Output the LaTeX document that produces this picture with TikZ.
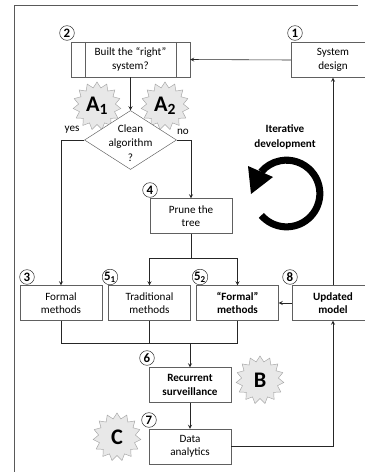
\documentclass[tikz,border=0pt]{standalone}
\usepackage{fontspec}
\setmainfont{Carlito}
\usetikzlibrary{shapes.geometric, shadows}
\tikzset{>=stealth}
\tikzset{
  stepbox/.style={draw=gray!75!black, fill=white, align=center, inner sep=1pt,
    minimum width=2.46cm, minimum height=1.05cm, font=\fontsize{9.5}{11.5}\selectfont,
    drop shadow={shadow xshift=0.6pt, shadow yshift=-0.6pt, fill=gray!50}},
  decision/.style={diamond, draw=gray!75!black, fill=white, inner sep=0pt,
    minimum width=2.76cm, minimum height=1.77cm},
  num/.style={circle, draw=black!85, fill=white, inner sep=0pt, minimum size=0.44cm,
    font=\fontsize{11}{11}\selectfont\bfseries},
  burst/.style={star, star points=15, star point ratio=1.3, draw=gray!70, fill=gray!18,
    inner sep=0pt, minimum size=1.44cm, font=\fontsize{19}{19}\selectfont\bfseries},
  conn/.style={draw=black!85, line width=0.5pt},
  frame/.style={draw=gray!70!black, line width=0.6pt}
}
\begin{document}
\begin{tikzpicture}[x=0.03cm, y=-0.03cm]
    \useasboundingbox (0,0) rectangle (365,472);
    \clip (0,0) rectangle (365,472);
    \draw[frame] (14,472) -- (14,5) -- (358,5);

    % bursts
    \node[burst] (a1) at (97,106) {A\textsubscript{1}};
    \node[burst] (a2) at (165,106) {A\textsubscript{2}};
    \node[burst] (b) at (260,380) {B};
    \node[burst] (c) at (117,437) {C};

    % boxes
    \node[stepbox, minimum width=3.57cm] (built) at (130.5,59.5) {Built the ``right''\\system?};
    \draw[draw=gray!75!black] ([xshift=0.42cm]built.north west) -- ([xshift=0.42cm]built.south west);
    \draw[draw=gray!75!black] ([xshift=-0.42cm]built.north east) -- ([xshift=-0.42cm]built.south east);
    \node[stepbox, minimum width=2.52cm] (sys) at (333,60) {System\\design};
    \node[decision] (clean) at (130.5,140) {};
    \node[align=center, font=\fontsize{9.5}{12.5}\selectfont] (cleantxt) at (130.5,143) {Clean\\algorithm\\?};
    \node[stepbox] (prune) at (191,216) {Prune the\\tree};
    \node[stepbox] (formal) at (61,303) {Formal\\methods};
    \node[stepbox] (trad) at (149.5,303) {Traditional\\methods};
    \node[stepbox, font=\fontsize{9.5}{11.5}\selectfont\bfseries] (fm2) at (237.5,303) {``Formal''\\methods};
    \node[stepbox, font=\fontsize{9.5}{11.5}\selectfont\bfseries] (upd) at (333,303) {Updated\\model};
    \node[stepbox, font=\fontsize{9.5}{11.5}\selectfont\bfseries] (rec) at (190,385) {Recurrent\\surveillance};
    \node[stepbox] (data) at (190,446.5) {Data\\analytics};

    % numbers
    \node[num] (n1) at (295,33) {1};
    \node[num] (n2) at (67,33) {2};
    \node[num] (n3) at (27,277) {3};
    \node[num] (n4) at (150,190) {4};
    \node[num] (n51) at (110,277) {5\textsubscript{1}};
    \node[num] (n52) at (200,277) {5\textsubscript{2}};
    \node[num] (n6) at (147,358) {6};
    \node[num] (n7) at (149,420) {7};
    \node[num] (n8) at (290,277) {8};

    \node[font=\fontsize{9.5}{11}\selectfont] (yes) at (72,130) {yes};
    \node[font=\fontsize{9.5}{11}\selectfont] (no) at (183,132) {no};

    % connectors
    \draw[conn, ->] (sys.west) -- (built.east);
    \draw[conn, ->] (built.south) -- (clean.north);
    \draw[conn, ->] (clean.west) -| (formal.north);
    \draw[conn, ->] (clean.east) -| (prune.north);
    \draw[conn] (prune.south) -- ++(0,25) coordinate (split);
    \draw[conn, ->] (split) -| (trad.north);
    \draw[conn, ->] (split) -| (fm2.north);
    \draw[conn, ->] (upd.west) -- (fm2.east);
    \coordinate (merge) at (190,343);
    \draw[conn] (formal.south) |- (merge);
    \draw[conn] (fm2.south) |- (merge);
    \draw[conn] (trad.south) -- (trad.south |- merge);
    \draw[conn, ->] (merge) -- (rec.north);
    \draw[conn, ->] (rec.south) -- (data.north);
    \draw[conn, ->] (data.east) -| (upd.south);
    \draw[conn, ->] (upd.north) -- (sys.south);

    % iterative loop
    \node[align=center, font=\fontsize{9.5}{12.5}\selectfont\bfseries] (iter) at (285,137) {Iterative\\development};
    \coordinate (loop) at (286.5,193.5);
    \draw[line width=6pt] ([shift={(221:1cm)}]loop) arc[start angle=221, end angle=500, radius=1cm];
    \fill (248,166) -- (273,177) -- (251,194) -- cycle;
\end{tikzpicture}
\end{document}
